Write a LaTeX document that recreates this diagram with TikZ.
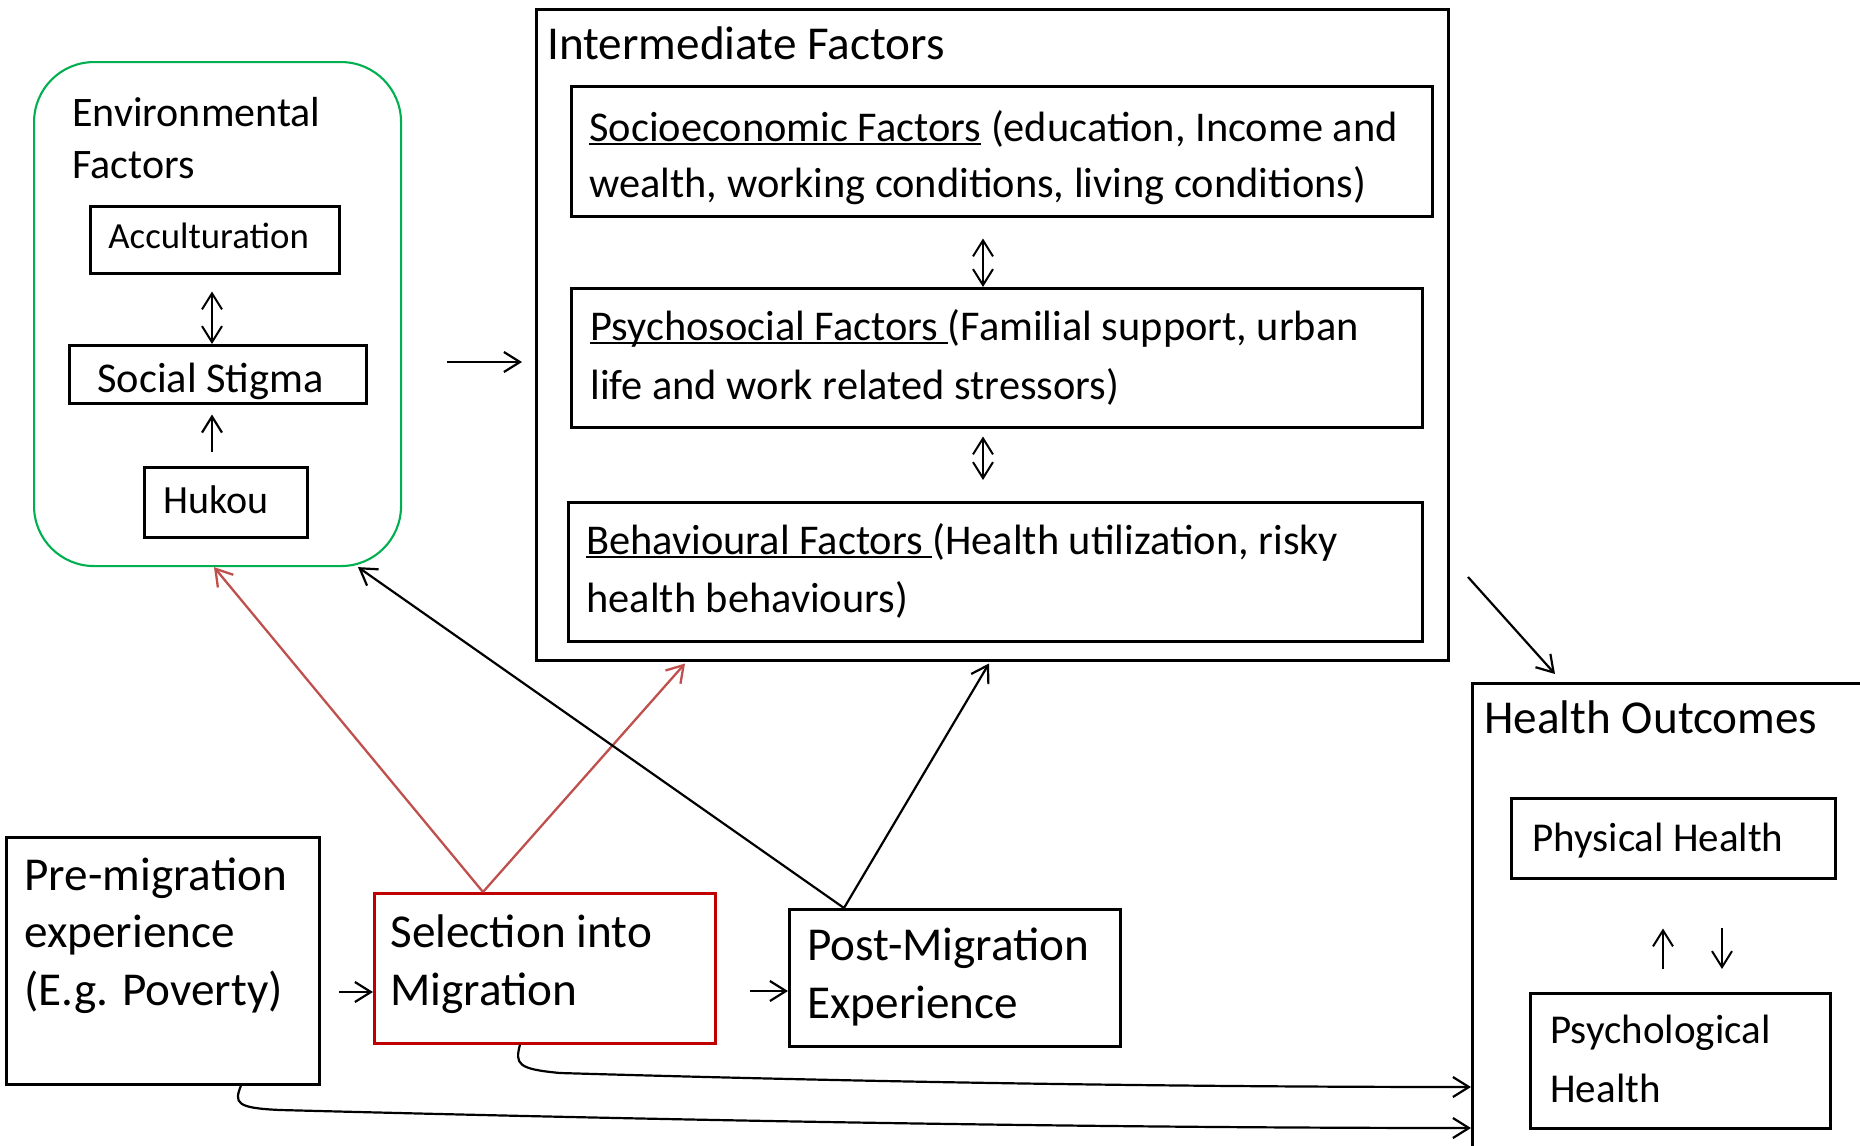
\documentclass[tikz,border=0pt]{standalone}
\usepackage{fontspec}
\setmainfont{Carlito}
\usetikzlibrary{arrows.meta,calc}
\definecolor{envgreen}{RGB}{0,176,80}
\definecolor{selred}{RGB}{192,0,0}
\definecolor{arrred}{RGB}{192,80,77}
\newsavebox\myulbox
\newcommand\myul[1]{\sbox\myulbox{#1}\rlap{\rule[-2pt]{\wd\myulbox}{0.85pt}}\usebox\myulbox}
\newcommand\mkbox[6]{\node[#6,minimum width={(#4-#2)*0.5pt},minimum height={(#5-#3)*0.5pt}] (#1) at (#2,#3) {};}
\begin{document}
\begin{tikzpicture}[x=0.5pt,y=-0.5pt,
  box/.style={draw,line width=1.25pt,inner sep=0pt,anchor=north west},
  envbox/.style={box,draw=envgreen,line width=1.05pt,rounded corners=30pt},
  selbox/.style={box,draw=selred},
  txt/.style={anchor=base west,inner sep=0pt},
  ttl/.style={txt,font=\fontsize{23.6}{28}\selectfont},
  inn/.style={txt,font=\fontsize{21.2}{26}\selectfont},
  arr/.style={-{Straight Barb[length=8pt,width=10pt]},line width=1.1pt},
  dbl/.style={{Straight Barb[length=8pt,width=10pt]}-{Straight Barb[length=8pt,width=10pt]},line width=1pt},
  redarr/.style={arr,draw=arrred,line width=1.15pt}]
\useasboundingbox (0,0) rectangle (1860,1146);
\clip (0,0) rectangle (1860,1146);
\fill[white] (0,0) rectangle (1860,1146);

% boxes
\mkbox{env}{33}{61}{400}{565}{envbox}
\mkbox{acc}{89}{205}{338}{272}{box}
\mkbox{ss}{68}{344}{365}{402}{box}
\mkbox{hk}{143}{466}{306}{536}{box}
\mkbox{inter}{535}{8}{1447}{659}{box}
\mkbox{se}{570}{85}{1431}{215}{box}
\mkbox{ps}{570}{287}{1421}{426}{box}
\mkbox{be}{567}{501}{1421}{640}{box}
\mkbox{ho}{1471}{682}{1890}{1180}{box}
\mkbox{ph}{1510}{797}{1834}{877}{box}
\mkbox{py}{1529}{992}{1829}{1127}{box}
\mkbox{pre}{5}{836}{318}{1083}{box}
\mkbox{sel}{373}{892}{714}{1042}{selbox}
\mkbox{post}{788}{908}{1119}{1045}{box}

% texts
\node[inn,font=\fontsize{21}{26}\selectfont] (envt1) at (72,126) {Environmental};
\node[inn,font=\fontsize{21}{26}\selectfont] (envt2) at (72,178) {Factors};
\node[inn,font=\fontsize{18.4}{22}\selectfont] (acct) at (108,248) {Acculturation};
\node[inn,font=\fontsize{21.2}{26}\selectfont] (sst) at (97,392) {Social Stigma};
\node[inn,font=\fontsize{20}{24}\selectfont] (hkt) at (163,513) {Hukou};
\node[ttl] (intt) at (547,59) {Intermediate Factors};
\node[inn] (se1) at (589,141) {\myul{Socioeconomic Factors} (education, Income and};
\node[inn] (se2) at (589,197) {wealth, working conditions, living conditions)};
\node[inn] (ps1) at (590,340) {\myul{Psychosocial Factors\ }(Familial support, urban};
\node[inn] (ps2) at (590,399) {life and work related stressors)};
\node[inn] (be1) at (586,554) {\myul{Behavioural Factors\ }(Health utilization, risky};
\node[inn] (be2) at (586,612) {health behaviours)};
\node[ttl] (hot) at (1484,733) {Health Outcomes};
\node[inn,font=\fontsize{20.5}{25}\selectfont] (pht) at (1532,851) {Physical Health};
\node[inn,font=\fontsize{20.5}{25}\selectfont] (py1) at (1550,1043) {Psychological};
\node[inn,font=\fontsize{20.5}{25}\selectfont] (py2) at (1550,1102) {Health};
\node[ttl] (pre1) at (24,890) {Pre-migration};
\node[ttl] (pre2) at (24,947) {experience};
\node[ttl] (pre3) at (24,1005) {(E.g. Poverty)};
\node[ttl] (sel1) at (390,947) {Selection into};
\node[ttl] (sel2) at (390,1005) {Migration};
\node[ttl] (post1) at (807,960) {Post-Migration};
\node[ttl] (post2) at (807,1018) {Experience};

% coordinates
\coordinate (ax) at (212,0);
\coordinate (ix) at (983,0);
\coordinate (e2i) at (447,362);
\coordinate (i2h) at (1468,577);
\coordinate (p2s) at (339,992);
\coordinate (s2p) at (750,991);
\coordinate (h1) at (0,1087);
\coordinate (h2) at (0,1128);
\coordinate (upa) at (1663,969);
\coordinate (dna) at (1722,928);

% connectors inside boxes
\draw[dbl] ($(acc.south -| ax)+(0,17)$) -- (ss.north -| ax);
\draw[arr] ($(hk.north -| ax)+(0,-14)$) -- ($(ss.south -| ax)+(0,10)$);
\draw[dbl] ($(se.south -| ix)+(0,21)$) -- (ps.north -| ix);
\draw[dbl] ($(ps.south -| ix)+(0,8)$) -- ($(be.north -| ix)+(0,-21)$);
\draw[arr,line width=1pt] (upa) -- ($(ph.south -| upa)+(0,49)$);
\draw[arr,line width=1pt] (dna) -- ($(py.north -| dna)+(0,-23)$);

% main connectors
\draw[arr] (e2i) -- ($(inter.west |- e2i)+(-13,0)$);
\draw[arr] (i2h) -- ($(ho.north west)+(84,-8)$);
\draw[arr] (p2s) -- (p2s -| sel.west);
\draw[arr] (s2p) -- (s2p -| post.west);
\draw[redarr] ($(sel.north west)+(110,0)$) -- ($(env.south west)+(181,0)$);
\draw[redarr] ($(sel.north west)+(110,0)$) -- ($(inter.south west)+(150,2)$);
\draw[arr] ($(post.north west)+(56,0)$) -- ($(env.south west)+(325,0)$);
\draw[arr] ($(post.north west)+(56,0)$) -- ($(inter.south west)+(454,2)$);
\draw[arr] ($(sel.south west)+(147,0)$) .. controls (515,1064) and (517,1069) .. (560,1073)
  .. controls (900,1083) and (1200,1087) .. (h1 -| ho.west);
\draw[arr] ($(pre.south west)+(236,0)$) .. controls (234,1103) and (236,1108) .. (280,1110)
  .. controls (700,1121) and (1100,1128) .. (h2 -| ho.west);
\end{tikzpicture}
\end{document}
